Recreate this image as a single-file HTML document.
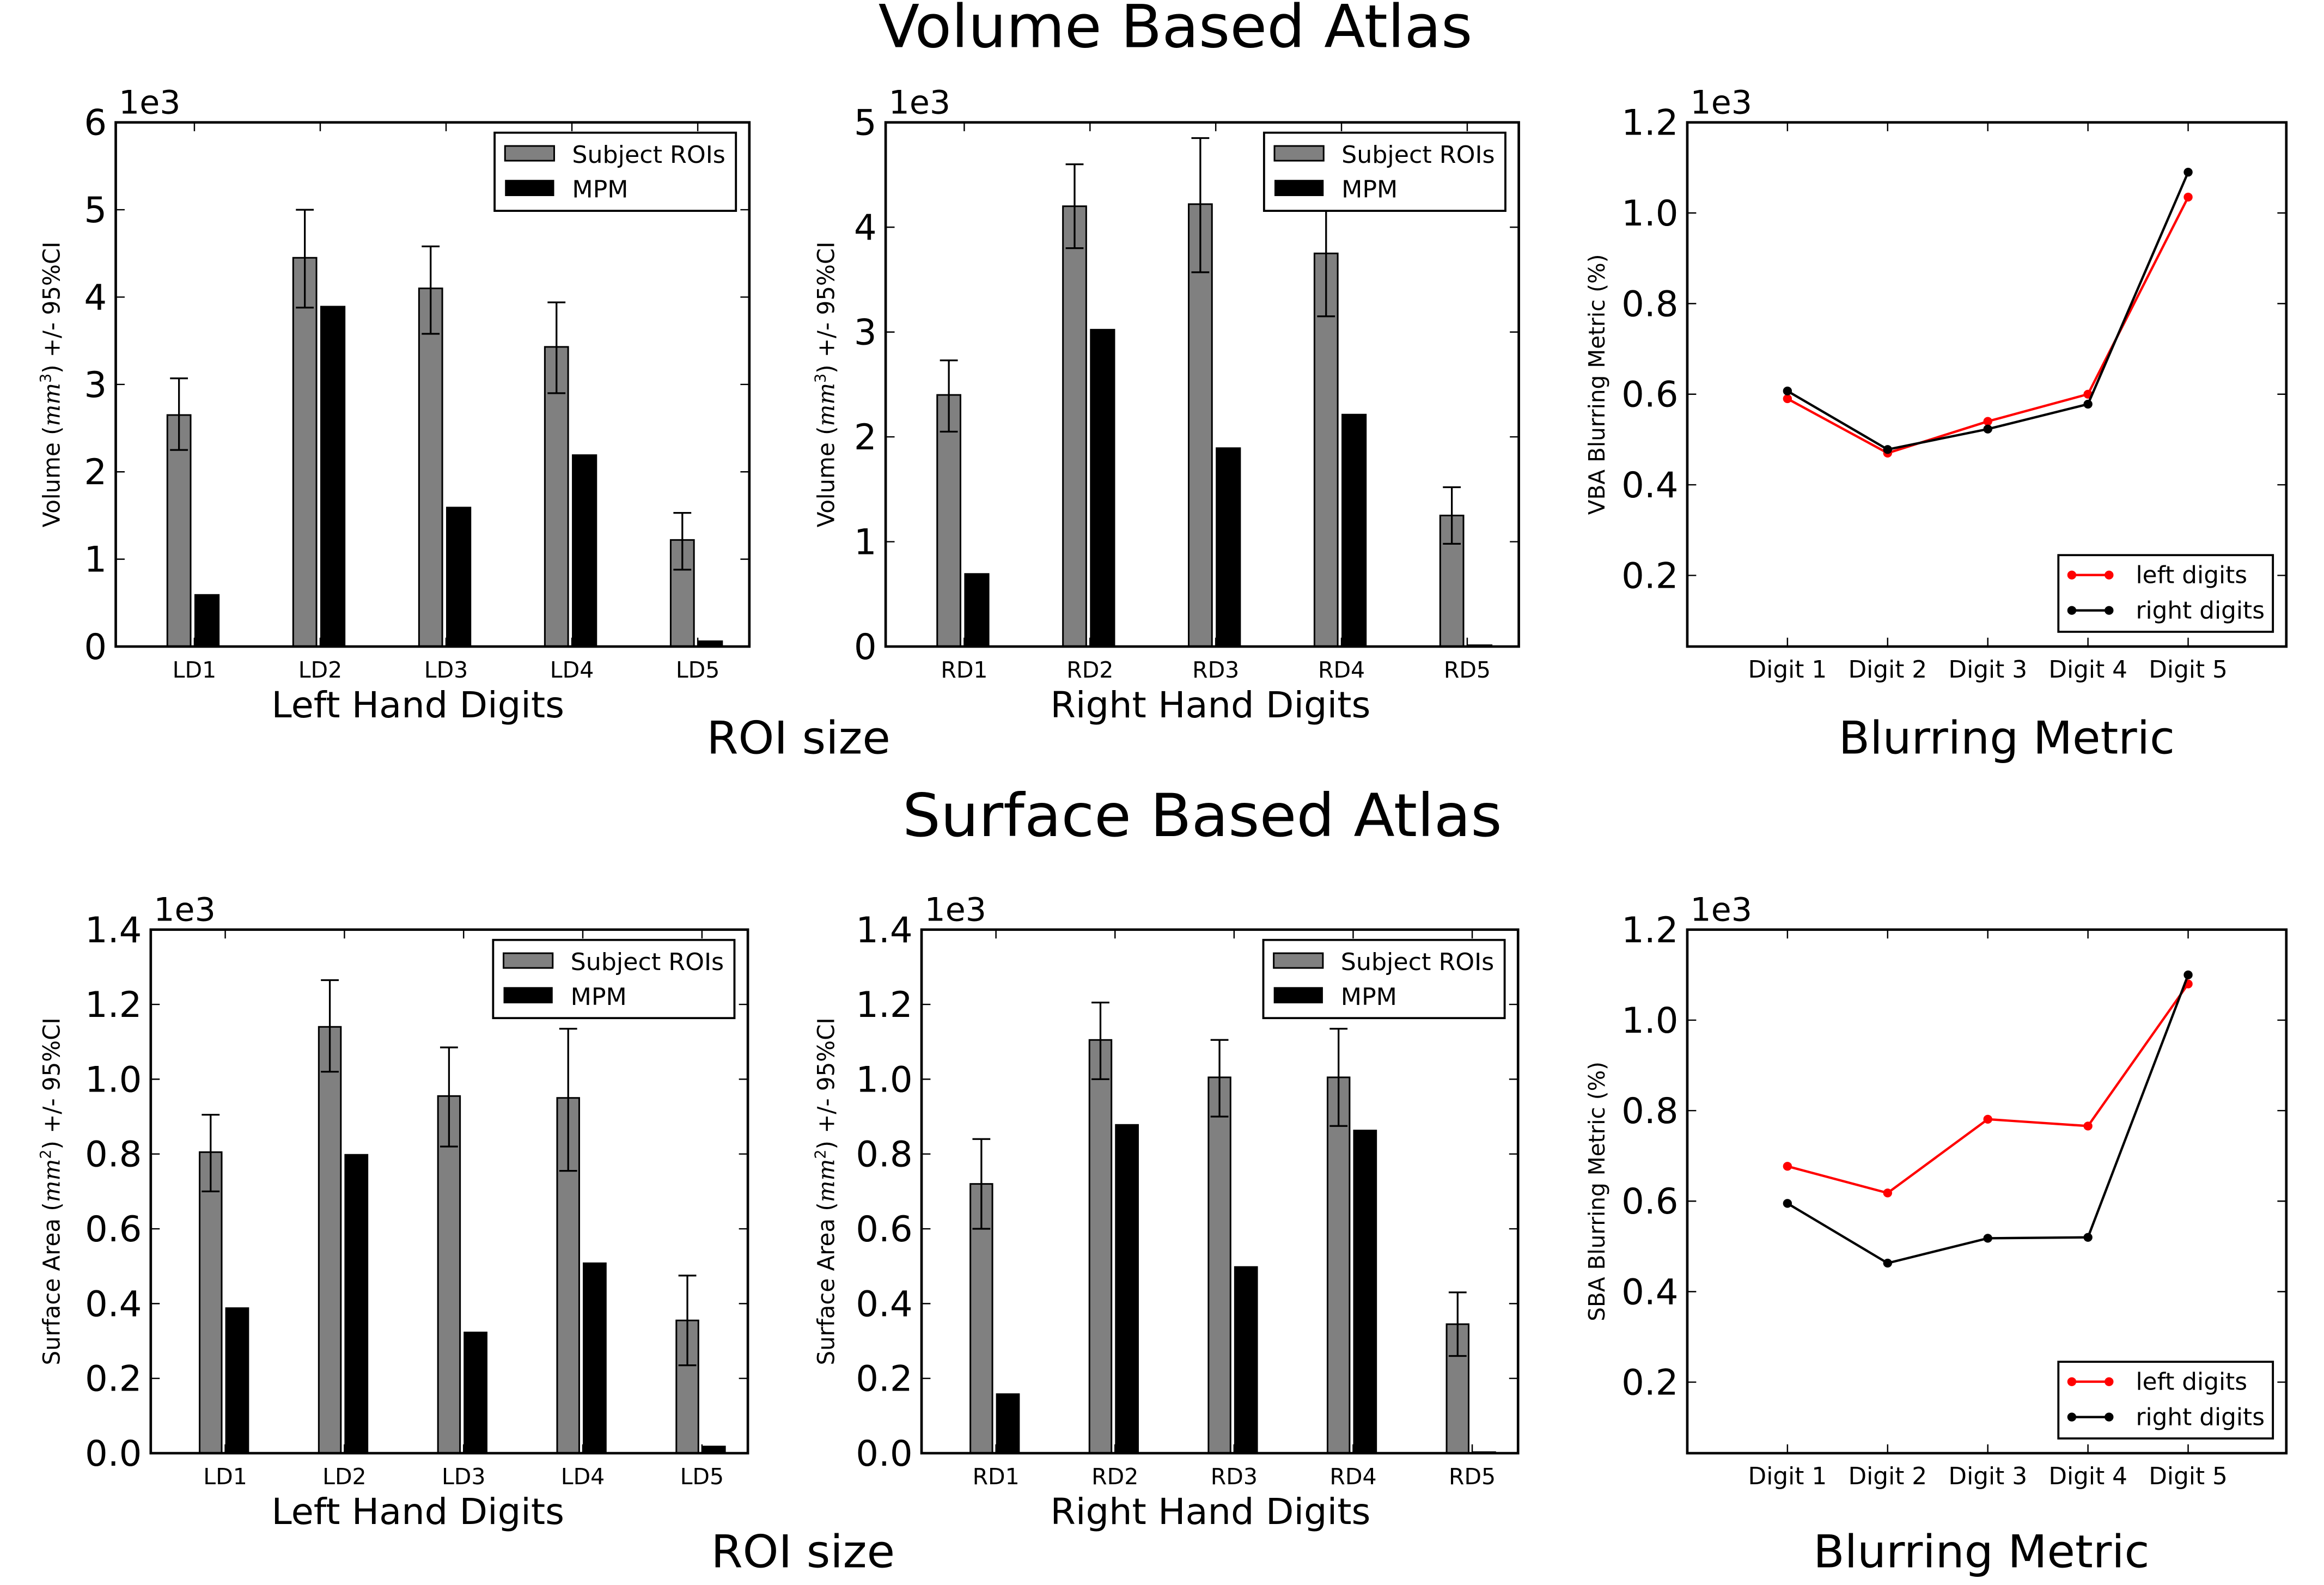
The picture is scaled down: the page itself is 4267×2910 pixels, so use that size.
<!DOCTYPE html>
<html><head><meta charset="utf-8">
<style>
html,body{margin:0;padding:0;background:#fff;}
svg{display:block;font-family:"DejaVu Sans","Liberation Sans",sans-serif;}
</style></head>
<body>
<svg id="fig" width="4267" height="2910" viewBox="0 0 1560 1075" preserveAspectRatio="none" xmlns="http://www.w3.org/2000/svg">
<rect x="0" y="0" width="1560" height="1075" fill="#fff"/>
<text x="789" y="32" font-size="40.3" text-anchor="middle">Volume Based Atlas</text>
<text x="807" y="567" font-size="40.3" text-anchor="middle">Surface Based Atlas</text>
<text x="536" y="511" font-size="30.6" text-anchor="middle">ROI size</text>
<text x="1347" y="511" font-size="30.6" text-anchor="middle">Blurring Metric</text>
<text x="539" y="1063" font-size="30.6" text-anchor="middle">ROI size</text>
<text x="1330" y="1063" font-size="30.6" text-anchor="middle">Blurring Metric</text>
</svg>
<script>
// ---- data ----
const leftCats = ["LD1","LD2","LD3","LD4","LD5"];
const rightCats = ["RD1","RD2","RD3","RD4","RD5"];
const digitCats = ["Digit 1","Digit 2","Digit 3","Digit 4","Digit 5"];

const volLeftSubj = [2.65,4.45,4.10,3.43,1.22];
const volLeftLo   = [2.25,3.88,3.58,2.90,0.88];
const volLeftHi   = [3.07,5.00,4.58,3.94,1.53];
const volLeftMpm  = [0.60,3.90,1.60,2.20,0.07];

const volRightSubj = [2.40,4.20,4.22,3.75,1.25];
const volRightLo   = [2.05,3.80,3.57,3.15,0.98];
const volRightHi   = [2.73,4.60,4.85,4.30,1.52];
const volRightMpm  = [0.70,3.03,1.90,2.22,0.02];

const surfLeftSubj = [0.805,1.14,0.955,0.95,0.355];
const surfLeftLo   = [0.70,1.02,0.82,0.755,0.235];
const surfLeftHi   = [0.905,1.265,1.085,1.135,0.475];
const surfLeftMpm  = [0.39,0.80,0.325,0.51,0.02];

const surfRightSubj = [0.72,1.105,1.005,1.005,0.345];
const surfRightLo   = [0.60,1.00,0.90,0.875,0.26];
const surfRightHi   = [0.84,1.205,1.105,1.135,0.43];
const surfRightMpm  = [0.16,0.88,0.50,0.865,0.005];

const vbaLeft  = [0.59,0.47,0.54,0.60,1.035];
const vbaRight = [0.607,0.478,0.523,0.578,1.09];
const sbaLeft  = [0.677,0.618,0.781,0.766,1.08];
const sbaRight = [0.595,0.463,0.518,0.52,1.10];

const volTicks6 = ["0","1","2","3","4","5","6"];
const volTicks5 = ["0","1","2","3","4","5"];
const areaTicks = ["0.0","0.2","0.4","0.6","0.8","1.0","1.2","1.4"];
const blurTicks = ["0.2","0.4","0.6","0.8","1.0","1.2"];

const NS="http://www.w3.org/2000/svg";
const fig=document.getElementById('fig');
function mk(tag,attrs,parent){const e=document.createElementNS(NS,tag);for(const k in attrs)e.setAttribute(k,attrs[k]);(parent||fig).appendChild(e);return e;}

function frame(g,L,T,R,B){
  const f=mk('rect',{x:L,y:T,width:R-L,height:B-T,fill:'none',stroke:'#000','stroke-width':1.7},g);
  
  
}

function yAxis(g,L,T,R,ys,ticks,vals){
  ticks.forEach((t,i)=>{
    const y=ys(vals[i]);
    mk('line',{x1:L,x2:L+6,y1:y,y2:y,stroke:'#000','stroke-width':0.9},g);
    mk('line',{x1:R-6,x2:R,y1:y,y2:y,stroke:'#000','stroke-width':0.9},g);
    const tx=mk('text',{x:L-6,y:y+8.5,'font-size':24,'text-anchor':'end'},g);
    tx.textContent=t;
    
    
  });
  const m=mk('text',{x:L+2,y:T-6,'font-size':22},g);
  m.textContent='1e3';
  
  
}

function xAxis(g,T,B,xs,cats,fs){
  cats.forEach((c,i)=>{
    const x=xs(i);
    mk('line',{x1:x,x2:x,y1:B,y2:B-6,stroke:'#000','stroke-width':0.9},g);
    mk('line',{x1:x,x2:x,y1:T,y2:T+6,stroke:'#000','stroke-width':0.9},g);
    const tx=mk('text',{x:x,y:B+21,'font-size':fs,'text-anchor':'middle'},g);
    tx.textContent=c;
    
    
  });
}

function barChart(name,L,T,R,B,xmax,cats,subj,lo,hi,mpm,ymax,ticks,xtitle,xtx,ylabelMain,sup,ylx){
  const g=mk('g',{});
  
  
  const xmin=-0.625;
  const xs=v=>L+(v-xmin)/(xmax-xmin)*(R-L);
  const ys=v=>B-v/ymax*(B-T);
  const tickVals=ticks.map(t=>parseFloat(t));
  cats.forEach((c,i)=>{
    const gb=mk('rect',{x:xs(i-0.215),y:ys(subj[i]),width:xs(i-0.03)-xs(i-0.215),height:B-ys(subj[i]),fill:'#808080',stroke:'#000','stroke-width':1.1},g);
    
    
    const mb=mk('rect',{x:xs(i),y:ys(mpm[i]),width:xs(i+0.2)-xs(i),height:B-ys(mpm[i]),fill:'#000'},g);
    
    
    const cx=xs(i-0.1225);
    const eb=mk('path',{d:`M${cx},${ys(lo[i])}V${ys(hi[i])}M${cx-6},${ys(hi[i])}H${cx+6}M${cx-6},${ys(lo[i])}H${cx+6}`,stroke:'#000','stroke-width':1.2,fill:'none'},g);
    
    
  });
  xAxis(g,T,B,xs,cats,15);
  yAxis(g,L,T,R,ys,ticks,tickVals);
  frame(g,L,T,R,B);
  const lg=mk('g',{},g);
  
  
  mk('rect',{x:R-171,y:T+7,width:162,height:53,fill:'#fff',stroke:'#000','stroke-width':1.4},lg);
  mk('rect',{x:R-164,y:T+16,width:33,height:10,fill:'#808080',stroke:'#000','stroke-width':1.1},lg);
  mk('rect',{x:R-164,y:T+39,width:33,height:11,fill:'#000'},lg);
  const t1=mk('text',{x:R-119,y:T+27.5,'font-size':16.2},lg);t1.textContent='Subject ROIs';
  
  
  const t2=mk('text',{x:R-119,y:T+51,'font-size':16.2},lg);t2.textContent='MPM';
  
  
  const xt=mk('text',{x:xtx,y:B+48,'font-size':24.5,'text-anchor':'middle'},g);
  xt.textContent=xtitle;
  
  
  const yl=mk('text',{x:0,y:0,'font-size':15.5,'text-anchor':'middle',transform:`translate(${ylx},${(T+B)/2}) rotate(-90)`},g);
  
  
  const a=mk('tspan',{},yl);a.textContent=ylabelMain+' (';
  const b=mk('tspan',{'font-style':'italic','font-family':'DejaVu Serif, serif'},yl);b.textContent='mm';
  const c=mk('tspan',{'font-size':10,dy:-6},yl);c.textContent=sup;
  const d=mk('tspan',{dy:6},yl);d.textContent=') +/- 95%CI';
}

function lineChart(name,L,T,R,B,left,right,ylabel){
  const g=mk('g',{});
  
  
  const xmin=0,xmax=5.98,ymin=0.043,ymax=1.2;
  const xs=i=>L+((i+1)-xmin)/(xmax-xmin)*(R-L);
  const ys=v=>B-(v-ymin)/(ymax-ymin)*(B-T);
  xAxis(g,T,B,xs,digitCats,16);
  yAxis(g,L,T,R,ys,blurTicks,blurTicks.map(parseFloat));
  [[left,'#ff0000','left-digits'],[right,'#000','right-digits']].forEach(([arr,col,nm])=>{
    const pts=arr.map((v,i)=>xs(i)+','+ys(v)).join(' ');
    const pl=mk('polyline',{points:pts,fill:'none',stroke:col,'stroke-width':1.6},g);
    
    
    arr.forEach((v,i)=>{
      const c=mk('circle',{cx:xs(i),cy:ys(v),r:3,fill:col},g);
      
      
    });
  });
  frame(g,L,T,R,B);
  const lg=mk('g',{},g);
  
  
  mk('rect',{x:R-153,y:B-62,width:144,height:52,fill:'#fff',stroke:'#000','stroke-width':1.4},lg);
  [['#ff0000','left digits',B-43],['#000','right digits',B-19]].forEach(([col,txt,y])=>{
    mk('line',{x1:R-144,x2:R-119,y1:y-5.5,y2:y-5.5,stroke:col,'stroke-width':1.6},lg);
    mk('circle',{cx:R-144,cy:y-5.5,r:3,fill:col},lg);
    mk('circle',{cx:R-119,cy:y-5.5,r:3,fill:col},lg);
    const t=mk('text',{x:R-101,y:y,'font-size':16},lg);t.textContent=txt;
    
    
  });
  const yl=mk('text',{x:0,y:0,'font-size':15,'text-anchor':'middle',transform:`translate(1077,${(T+B)/2}) rotate(-90)`},g);
  yl.textContent=ylabel;
  
  
}

barChart('volume-left-chart',77.7,83,503,438.5,4.41,leftCats,volLeftSubj,volLeftLo,volLeftHi,volLeftMpm,6,volTicks6,'Left Hand Digits',280.5,'Volume','3',40);
barChart('volume-right-chart',594.5,83,1019.5,438.5,4.41,rightCats,volRightSubj,volRightLo,volRightHi,volRightMpm,5,volTicks5,'Right Hand Digits',812.5,'Volume','3',560);
lineChart('vba-blurring-chart',1132.6,83,1534.7,438.5,vbaLeft,vbaRight,'VBA Blurring Metric (%)');
barChart('surface-left-chart',101.2,630.5,502,985.6,4.385,leftCats,surfLeftSubj,surfLeftLo,surfLeftHi,surfLeftMpm,1.4,areaTicks,'Left Hand Digits',280.5,'Surface Area','2',40);
barChart('surface-right-chart',618.6,630.5,1019,985.6,4.385,rightCats,surfRightSubj,surfRightLo,surfRightHi,surfRightMpm,1.4,areaTicks,'Right Hand Digits',812.5,'Surface Area','2',560);
lineChart('sba-blurring-chart',1132.6,630.5,1534.7,985.6,sbaLeft,sbaRight,'SBA Blurring Metric (%)');
</script>
</body></html>
